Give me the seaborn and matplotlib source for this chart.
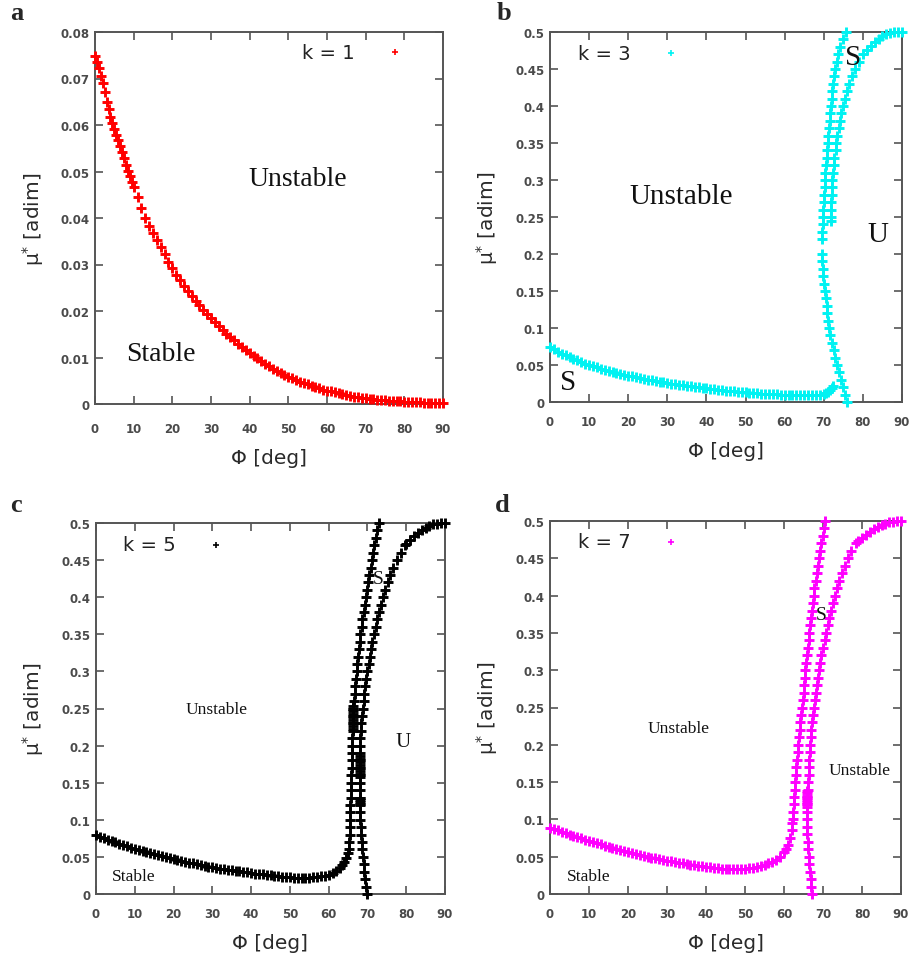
import matplotlib
matplotlib.use("Agg")
import matplotlib.pyplot as plt
import pandas as pd
import seaborn as sns

# ---------------- data ----------------
phi_ticks = [0, 10, 20, 30, 40, 50, 60, 70, 80, 90]
phi_tick_labels = ["0", "10", "20", "30", "40", "50", "60", "70", "80", "90"]
mu_ticks_a = [0, 0.01, 0.02, 0.03, 0.04, 0.05, 0.06, 0.07, 0.08]
mu_tick_labels_a = ["0", "0.01", "0.02", "0.03", "0.04", "0.05", "0.06", "0.07", "0.08"]
mu_ticks = [0, 0.05, 0.1, 0.15, 0.2, 0.25, 0.3, 0.35, 0.4, 0.45, 0.5]
mu_tick_labels = ["0", "0.05", "0.1", "0.15", "0.2", "0.25", "0.3", "0.35", "0.4", "0.45", "0.5"]

# k = 1
a_phi = [0, 0.5, 1, 1.5, 2, 2.5, 3, 3.5, 4, 4.5, 5, 5.5, 6, 6.5, 7, 7.5, 8, 8.5, 9, 9.5, 10,
         11, 12, 13, 14, 15, 16, 17, 18, 19, 20,
         21, 22, 23, 24, 25, 26, 27, 28, 29, 30,
         31, 32, 33, 34, 35, 36, 37, 38, 39, 40,
         41, 42, 43, 44, 45, 46, 47, 48, 49, 50,
         51, 52, 53, 54, 55, 56, 57, 58, 59, 60,
         61, 62, 63, 64, 65, 66, 67, 68, 69, 70,
         71, 72, 73, 74, 75, 76, 77, 78, 79, 80,
         81, 82, 83, 84, 85, 86, 87, 88, 89, 90]
a_mu = [0.0749, 0.0736, 0.0722, 0.0706, 0.0690, 0.0670, 0.0650, 0.0634, 0.0618, 0.0604,
        0.0591, 0.0579, 0.0567, 0.0555, 0.0543, 0.0529, 0.0515, 0.0502, 0.0490, 0.0478, 0.0467,
        0.0445, 0.0422, 0.0400, 0.0383, 0.0367, 0.0352, 0.0337, 0.0322, 0.0306, 0.0292,
        0.0278, 0.0266, 0.0254, 0.0243, 0.0232, 0.0222, 0.0212, 0.0203, 0.0194, 0.0185,
        0.0176, 0.0167, 0.0159, 0.0151, 0.0144, 0.0137, 0.0130, 0.0123, 0.0116, 0.0110,
        0.0104, 0.0098, 0.0092, 0.0086, 0.0081, 0.0076, 0.0071, 0.0067, 0.0063, 0.0059,
        0.0055, 0.0051, 0.0048, 0.0045, 0.0042, 0.0039, 0.0036, 0.0034, 0.0031, 0.0029,
        0.0027, 0.0025, 0.0023, 0.0021, 0.0019, 0.0018, 0.0016, 0.0015, 0.0013, 0.0012,
        0.0011, 0.0010, 0.0009, 0.0009, 0.0008, 0.0007, 0.0007, 0.0006, 0.0006, 0.0005,
        0.0005, 0.0004, 0.0004, 0.0004, 0.0003, 0.0003, 0.0003, 0.0002, 0.0002, 0.0002]

# k = 3
b_low_phi = [0, 1, 2, 3, 4, 5, 6, 7, 8, 9,
             10, 11, 12, 13, 14, 15, 16, 17, 18, 19,
             20, 21, 22, 23, 24, 25, 26, 27, 28, 29,
             30, 31, 32, 33, 34, 35, 36, 37, 38, 39,
             40, 41, 42, 43, 44, 45, 46, 47, 48, 49,
             50, 51, 52, 53, 54, 55, 56, 57, 58, 59,
             60, 61, 62, 63, 64, 65, 66, 67, 68, 69,
             70, 70.5, 71, 71.5, 72, 72.3]
b_low_mu = [0.0740, 0.0710, 0.0682, 0.0655, 0.0630, 0.0606, 0.0583, 0.0561, 0.0540, 0.0520,
            0.0501, 0.0484, 0.0467, 0.0451, 0.0436, 0.0421, 0.0407, 0.0394, 0.0381, 0.0368,
            0.0356, 0.0345, 0.0334, 0.0323, 0.0313, 0.0303, 0.0293, 0.0284, 0.0275, 0.0266,
            0.0257, 0.0249, 0.0241, 0.0233, 0.0225, 0.0217, 0.0210, 0.0203, 0.0196, 0.0190,
            0.0184, 0.0177, 0.0171, 0.0165, 0.0160, 0.0154, 0.0149, 0.0144, 0.0139, 0.0134,
            0.0130, 0.0126, 0.0122, 0.0118, 0.0114, 0.0111, 0.0108, 0.0105, 0.0102, 0.0099,
            0.0097, 0.0095, 0.0093, 0.0091, 0.0090, 0.0089, 0.0089, 0.0090, 0.0093, 0.0098,
            0.0108, 0.0120, 0.0138, 0.0160, 0.0190, 0.0220]
b_fold_mu = [0.00, 0.01, 0.02, 0.03, 0.04, 0.05, 0.06, 0.07, 0.08, 0.09,
             0.10, 0.11, 0.12, 0.13, 0.14, 0.15, 0.16, 0.17, 0.18, 0.19,
             0.20,
             0.22, 0.23, 0.24, 0.25, 0.26, 0.27, 0.28, 0.29,
             0.30, 0.31, 0.32, 0.33, 0.34, 0.35, 0.36, 0.37, 0.38, 0.39,
             0.40, 0.41, 0.42, 0.43, 0.44, 0.45, 0.46, 0.47, 0.48, 0.49,
             0.50]
b_fold_phi = [76.0, 75.5, 75.0, 74.5, 74.0, 73.4, 72.9, 72.5, 72.1, 71.7,
              71.4, 71.1, 70.9, 70.7, 70.5, 70.3, 70.1, 69.9, 69.8, 69.6,
              69.5,
              69.5, 69.6, 69.7, 69.8, 69.9, 70.0, 70.1, 70.2,
              70.3, 70.4, 70.5, 70.7, 70.9, 71.0, 71.2, 71.4, 71.5, 71.6,
              71.8, 72.0, 72.2, 72.4, 72.6, 72.9, 73.3, 73.7, 74.2, 74.8,
              75.6]
b_inner_mu = [0.245, 0.25, 0.26, 0.27, 0.28, 0.29,
              0.30, 0.31, 0.32, 0.33, 0.34, 0.35, 0.36, 0.37, 0.38, 0.39,
              0.40, 0.41, 0.42, 0.43, 0.44, 0.45, 0.46,
              0.470, 0.476, 0.481, 0.486, 0.490, 0.494, 0.497, 0.499, 0.500, 0.500, 0.500]
b_inner_phi = [71.8, 71.8, 71.8, 71.9, 72.0, 72.1,
               72.2, 72.4, 72.5, 72.7, 73.0, 73.2, 73.5, 73.8, 74.1, 74.5,
               74.9, 75.3, 75.9, 76.5, 77.2, 78.0, 78.9,
               80, 81, 82, 83, 84, 85, 86, 87, 88, 89, 90]

# k = 5
c_left_phi = [0, 1, 2, 3, 4, 5, 6, 7, 8, 9,
              10, 11, 12, 13, 14, 15, 16, 17, 18, 19,
              20, 21, 22, 23, 24, 25, 26, 27, 28, 29,
              30, 31, 32, 33, 34, 35, 36, 37, 38, 39,
              40, 41, 42, 43, 44, 45, 46, 47, 48, 49,
              50, 51, 52, 53, 54, 55, 56, 57, 58, 59,
              60, 61, 62, 63, 63.5, 64, 64.5, 65,
              65.2, 65.3, 65.4, 65.5, 65.5, 65.6, 65.6, 65.7, 65.7, 65.8,
              65.8, 65.9, 65.9, 66.0, 66.0, 66.1, 66.2, 66.2, 66.3, 66.4,
              66.5, 66.7, 66.8, 67.0, 67.2, 67.4, 67.6, 67.8, 68.0, 68.2,
              68.5, 68.7, 69.0, 69.3, 69.6, 69.9, 70.2, 70.5, 70.8, 71.1,
              71.4, 71.8, 72.1, 72.5, 72.9,
              66.3, 66.3, 66.3, 66.3, 66.3, 66.3, 66.3, 66.3, 66.3]
c_left_mu = [0.0790, 0.0770, 0.0750, 0.0731, 0.0713, 0.0695, 0.0677, 0.0659, 0.0642, 0.0626,
             0.0610, 0.0595, 0.0579, 0.0564, 0.0550, 0.0535, 0.0522, 0.0508, 0.0495, 0.0482,
             0.0470, 0.0458, 0.0446, 0.0435, 0.0423, 0.0412, 0.0401, 0.0391, 0.0380, 0.0370,
             0.0360, 0.0351, 0.0342, 0.0334, 0.0326, 0.0318, 0.0311, 0.0304, 0.0296, 0.0290,
             0.0283, 0.0276, 0.0269, 0.0263, 0.0256, 0.0250, 0.0245, 0.0239, 0.0234, 0.0229,
             0.0225, 0.0222, 0.0220, 0.0219, 0.0219, 0.0220, 0.0224, 0.0229, 0.0238, 0.0248,
             0.0262, 0.0280, 0.0308, 0.0355, 0.0390, 0.0430, 0.0480, 0.0550,
             0.06, 0.07, 0.08, 0.09, 0.10, 0.11, 0.12, 0.13, 0.14, 0.15,
             0.16, 0.17, 0.18, 0.19, 0.20, 0.21, 0.22, 0.23, 0.24, 0.25,
             0.26, 0.27, 0.28, 0.29, 0.30, 0.31, 0.32, 0.33, 0.34, 0.35,
             0.36, 0.37, 0.38, 0.39, 0.40, 0.41, 0.42, 0.43, 0.44, 0.45,
             0.46, 0.47, 0.48, 0.49, 0.50,
             0.222, 0.226, 0.230, 0.234, 0.238, 0.242, 0.246, 0.250, 0.254]
c_right_mu = [0.00, 0.01, 0.02, 0.03, 0.04, 0.05, 0.06, 0.07, 0.08, 0.09,
              0.10, 0.11, 0.12, 0.13, 0.14, 0.15, 0.16, 0.17, 0.18, 0.19,
              0.20, 0.21, 0.22, 0.23, 0.24, 0.25, 0.26, 0.27, 0.28, 0.29,
              0.30, 0.31, 0.32, 0.33, 0.34, 0.35, 0.36, 0.37, 0.38, 0.39,
              0.40, 0.41, 0.42, 0.43, 0.44, 0.45, 0.46, 0.47,
              0.472, 0.477, 0.482, 0.486, 0.490, 0.493, 0.496, 0.498, 0.499, 0.500, 0.500,
              0.121, 0.124, 0.127, 0.130,
              0.158, 0.162, 0.166, 0.170, 0.174, 0.178, 0.182, 0.186]
c_right_phi = [69.8, 69.6, 69.4, 69.2, 69.0, 68.9, 68.7, 68.6, 68.4, 68.3,
               68.2, 68.1, 68.1, 68.0, 68.0, 68.0, 68.0, 68.0, 68.0, 68.1,
               68.1, 68.2, 68.3, 68.4, 68.6, 68.8, 69.0, 69.2, 69.4, 69.7,
               70.0, 70.3, 70.6, 71.0, 71.3, 71.7, 72.1, 72.5, 73.0, 73.5,
               74.0, 74.6, 75.2, 75.9, 76.7, 77.6, 78.6, 79.6,
               80, 81, 82, 83, 84, 85, 86, 87, 88, 89, 90,
               68.0, 68.0, 68.0, 68.0,
               68.1, 68.1, 68.1, 68.1, 68.1, 68.1, 68.1, 68.1]

# k = 7
d_left_phi = [0, 1, 2, 3, 4, 5, 6, 7, 8, 9,
              10, 11, 12, 13, 14, 15, 16, 17, 18, 19,
              20, 21, 22, 23, 24, 25, 26, 27, 28, 29,
              30, 31, 32, 33, 34, 35, 36, 37, 38, 39,
              40, 41, 42, 43, 44, 45, 46, 47, 48, 49,
              50, 51, 52, 53, 54, 55, 56, 57, 58, 59,
              60, 60.5, 61, 61.5, 62,
              62.1, 62.2, 62.3, 62.5, 62.6, 62.8, 62.9, 63.1, 63.2, 63.4, 63.5,
              63.7, 63.9, 64.1, 64.2, 64.4, 64.6, 64.8, 65.0, 65.1, 65.3,
              65.5, 65.7, 65.9, 66.1, 66.3, 66.5, 66.7, 66.9, 67.1, 67.4,
              67.6, 67.8, 68.1, 68.4, 68.6, 68.9, 69.2, 69.5, 69.9, 70.2,
              70.6]
d_left_mu = [0.0890, 0.0871, 0.0852, 0.0833, 0.0815, 0.0797, 0.0779, 0.0762, 0.0745, 0.0729,
             0.0714, 0.0697, 0.0680, 0.0664, 0.0648, 0.0632, 0.0617, 0.0602, 0.0587, 0.0572,
             0.0558, 0.0545, 0.0533, 0.0521, 0.0509, 0.0498, 0.0487, 0.0476, 0.0466, 0.0456,
             0.0446, 0.0437, 0.0428, 0.0419, 0.0410, 0.0402, 0.0394, 0.0387, 0.0380, 0.0373,
             0.0366, 0.0359, 0.0352, 0.0345, 0.0338, 0.0333, 0.0331, 0.0331, 0.0332, 0.0334,
             0.0338, 0.0343, 0.0350, 0.0360, 0.0373, 0.0390, 0.0410, 0.0432, 0.0460, 0.0500,
             0.0560, 0.0600, 0.0660, 0.0750, 0.0860,
             0.095, 0.10, 0.11, 0.12, 0.13, 0.14, 0.15, 0.16, 0.17, 0.18, 0.19,
             0.20, 0.21, 0.22, 0.23, 0.24, 0.25, 0.26, 0.27, 0.28, 0.29,
             0.30, 0.31, 0.32, 0.33, 0.34, 0.35, 0.36, 0.37, 0.38, 0.39,
             0.40, 0.41, 0.42, 0.43, 0.44, 0.45, 0.46, 0.47, 0.48, 0.49,
             0.50]
d_right_mu = [0.00, 0.01, 0.02, 0.03, 0.04, 0.05, 0.06, 0.07, 0.08, 0.09,
              0.10, 0.11, 0.12, 0.13, 0.14, 0.15, 0.16, 0.17, 0.18, 0.19,
              0.20, 0.21, 0.22, 0.23, 0.24, 0.25, 0.26, 0.27, 0.28, 0.29,
              0.30, 0.31, 0.32, 0.33, 0.34, 0.35, 0.36, 0.37, 0.38, 0.39,
              0.40, 0.41, 0.42, 0.43, 0.44, 0.45, 0.46, 0.47,
              0.473, 0.477, 0.481, 0.485, 0.489, 0.492, 0.494, 0.496, 0.498, 0.499, 0.500, 0.500,
              0.117, 0.120, 0.123, 0.126, 0.129, 0.132, 0.135, 0.138]
d_right_phi = [67.2, 67.0, 66.8, 66.6, 66.4, 66.3, 66.2, 66.1, 66.0, 66.0,
               66.0, 66.0, 66.0, 66.0, 66.1, 66.2, 66.3, 66.4, 66.5, 66.6,
               66.7, 66.9, 67.0, 67.2, 67.4, 67.6, 67.9, 68.1, 68.4, 68.7,
               69.0, 69.3, 69.6, 70.0, 70.4, 70.8, 71.2, 71.6, 72.0, 72.5,
               73.0, 73.6, 74.2, 74.8, 75.6, 76.4, 77.3, 78.4,
               79, 80, 81, 82, 83, 84, 85, 86, 87, 88, 89, 90,
               66.0, 66.0, 66.0, 66.0, 66.0, 66.0, 66.0, 66.0]

# ---------------- figure ----------------
sns.set_theme(style="white")
plt.rcParams["font.family"] = ["DejaVu Sans"]
plt.rcParams["mathtext.fontset"] = "dejavusans"

FIG_W, FIG_H = 914, 962
fig = plt.figure(figsize=(FIG_W / 100, FIG_H / 100), dpi=100)
SERIF = "Liberation Serif"


def px_axes(left, top, right, bottom):
    return fig.add_axes([left / FIG_W, 1 - bottom / FIG_H,
                         (right - left) / FIG_W, (bottom - top) / FIG_H])


def frame(ax, ymax, yticks, ylabels, xpad, xlab_y, ylab_x):
    ax.set_xlim(0, 90)
    ax.set_ylim(0, ymax)
    ax.set_xticks(phi_ticks)
    ax.set_xticklabels(phi_tick_labels)
    ax.set_yticks(yticks)
    ax.set_yticklabels(ylabels)
    ax.tick_params(axis="both", direction="in", length=6, width=1.2,
                   color="#555555", labelcolor="#4a4a4a", labelsize=8.5,
                   bottom=True, left=True, top=True, right=True)
    for lab in ax.get_xticklabels() + ax.get_yticklabels():
        lab.set_fontweight("bold")
    ax.tick_params(axis="x", pad=xpad)
    ax.tick_params(axis="y", pad=4)
    for sp in ax.spines.values():
        sp.set_color("#555555")
        sp.set_linewidth(1.4)
    ax.set_xlabel("Φ [deg]", fontsize=14.5, color="#2a2a2a", va="center", ha="center")
    ax.set_ylabel("μ$^{*}$ [adim]", fontsize=14.5, color="#2a2a2a", va="center", ha="center")
    ax.xaxis.set_label_coords(0.5, xlab_y)
    ax.yaxis.set_label_coords(ylab_x, 0.5)


def draw(ax, frames, color, label, leg_x, leg_y):
    df = pd.concat([pd.DataFrame({"phi": p, "mu": m}) for p, m in frames], ignore_index=True)
    sns.scatterplot(data=df, x="phi", y="mu", marker="+", color=color, s=50,
                    linewidth=2.1, ax=ax, label=label, clip_on=False, zorder=3)
    leg = ax.legend(loc="center right", bbox_to_anchor=(leg_x, leg_y), markerfirst=False,
                    frameon=False, fontsize=14, handlelength=1.0, handletextpad=1.6,
                    borderpad=0, borderaxespad=0, markerscale=0.7)
    for h in leg.legend_handles:
        h.set_linewidth(1.2)
    for t in leg.get_texts():
        t.set_color("#222222")


def note(ax, x, y, s, size):
    ax.text(x, y, s, fontsize=size, family=SERIF, ha="center", va="center",
            color="#111111", zorder=4)


# panel a
ax_a = px_axes(95, 33, 443, 405)
draw(ax_a, [(a_phi, a_mu)], "#ff0000", "k = 1", 0.89, 0.946)
frame(ax_a, 0.08, mu_ticks_a, mu_tick_labels_a, 13, -0.1425, -0.178)
note(ax_a, 52.5, 0.0484, "Unstable", 20)
note(ax_a, 17, 0.0108, "Stable", 20)

# panel b
ax_b = px_axes(550, 33, 902, 403)
draw(ax_b, [(b_low_phi, b_low_mu), (b_fold_phi, b_fold_mu), (b_inner_phi, b_inner_mu)],
     "#00f2f2", "k = 3", 0.372, 0.943)
frame(ax_b, 0.5, mu_ticks, mu_tick_labels, 9.5, -0.132, -0.179)
note(ax_b, 33.5, 0.278, "Unstable", 21)
note(ax_b, 77.5, 0.466, "S", 21)
note(ax_b, 83.9, 0.227, "U", 21)
note(ax_b, 4.6, 0.027, "S", 21)

# panel c
ax_c = px_axes(96, 524, 445, 895)
draw(ax_c, [(c_left_phi, c_left_mu), (c_right_phi, c_right_mu)],
     "#000000", "k = 5", 0.372, 0.943)
frame(ax_c, 0.5, mu_ticks, mu_tick_labels, 9.5, -0.132, -0.18)
note(ax_c, 31.2, 0.249, "Unstable", 12.5)
note(ax_c, 9.6, 0.024, "Stable", 12.5)
note(ax_c, 72.8, 0.425, "S", 14)
note(ax_c, 79.2, 0.206, "U", 15)

# panel d
ax_d = px_axes(550, 522, 901, 895)
draw(ax_d, [(d_left_phi, d_left_mu), (d_right_phi, d_right_mu)],
     "#ff00ff", "k = 7", 0.373, 0.944)
frame(ax_d, 0.5, mu_ticks, mu_tick_labels, 9.5, -0.129, -0.179)
note(ax_d, 33, 0.222, "Unstable", 12.5)
note(ax_d, 10, 0.024, "Stable", 12.5)
note(ax_d, 69.5, 0.375, "S", 14)
note(ax_d, 79.5, 0.166, "Unstable", 12.5)

# panel letters
for letter, x, y in [("a", 10, 20), ("b", 497, 20), ("c", 10, 512), ("d", 495, 512)]:
    fig.text(x / FIG_W, 1 - y / FIG_H, letter, family=SERIF, weight="bold",
             fontsize=19, va="baseline", ha="left")

fig.savefig("out.png", dpi=100)
